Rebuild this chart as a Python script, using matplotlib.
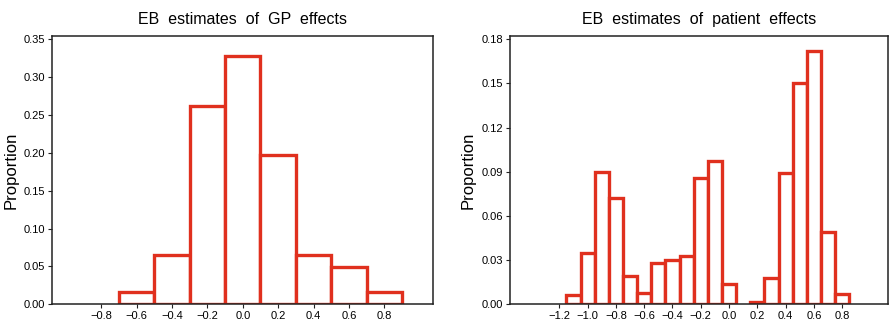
import matplotlib
matplotlib.use("Agg")
import matplotlib.pyplot as plt
import numpy as np

plt.rcParams['font.family'] = ['Liberation Sans', 'DejaVu Sans']

# GP effects histogram (bin width 0.2)
gp_centers = [-0.6, -0.4, -0.2, 0.0, 0.2, 0.4, 0.6, 0.8]
gp_props = [0.016, 0.065, 0.262, 0.328, 0.197, 0.065, 0.049, 0.016]
gp_xticks = [-0.8, -0.6, -0.4, -0.2, 0.0, 0.2, 0.4, 0.6, 0.8]
gp_yticks = [0.00, 0.05, 0.10, 0.15, 0.20, 0.25, 0.30, 0.35]

# patient effects histogram (bin width 0.1)
pt_centers = [-1.1, -1.0, -0.9, -0.8, -0.7, -0.6, -0.5, -0.4, -0.3, -0.2, -0.1,
              0.0, 0.2, 0.3, 0.4, 0.5, 0.6, 0.7, 0.8]
pt_props = [0.006, 0.0345, 0.090, 0.072, 0.019, 0.008, 0.028, 0.030, 0.033, 0.0855, 0.097,
            0.014, 0.0016, 0.0177, 0.089, 0.150, 0.172, 0.049, 0.007]
pt_xticks = [-1.2, -1.0, -0.8, -0.6, -0.4, -0.2, 0.0, 0.2, 0.4, 0.6, 0.8]
pt_yticks = [0.00, 0.03, 0.06, 0.09, 0.12, 0.15, 0.18]

red = '#e0301e'

fig = plt.figure(figsize=(8.89, 3.25), dpi=100)
ax1 = fig.add_axes([0.0589, 0.0637, 0.4285, 0.8255])
ax2 = fig.add_axes([0.5737, 0.0637, 0.4253, 0.8255])


def style(ax, title, xticks, yticks, xlim, ylim, fmt):
    ax.set_xlim(*xlim)
    ax.set_ylim(*ylim)
    ax.set_xticks(xticks)
    ax.set_yticks(yticks)
    ax.set_xticklabels([('%.1f' % v).replace('-', '\u2212') for v in xticks], fontsize=8)
    ax.set_yticklabels([fmt % v for v in yticks], fontsize=8)
    ax.tick_params(length=3, width=0.8, pad=2, color='#222222')
    for s in ax.spines.values():
        s.set_linewidth(1.1)
        s.set_color('#222222')
    ax.set_ylabel('Proportion', fontsize=12, labelpad=4)
    ax.set_title(title, fontsize=11.5, pad=9)


ax1.bar(gp_centers, gp_props, width=0.2, facecolor='white', edgecolor=red, linewidth=2.4)
style(ax1, 'EB  estimates  of  GP  effects', gp_xticks, gp_yticks, (-1.078, 1.078), (0, 0.3544), '%.2f')

ax2.bar(pt_centers, pt_props, width=0.1, facecolor='white', edgecolor=red, linewidth=2.4)
style(ax2, 'EB  estimates  of  patient  effects', pt_xticks, pt_yticks, (-1.549, 1.125), (0, 0.1822), '%.2f')

fig.savefig('out.png', dpi=100)
